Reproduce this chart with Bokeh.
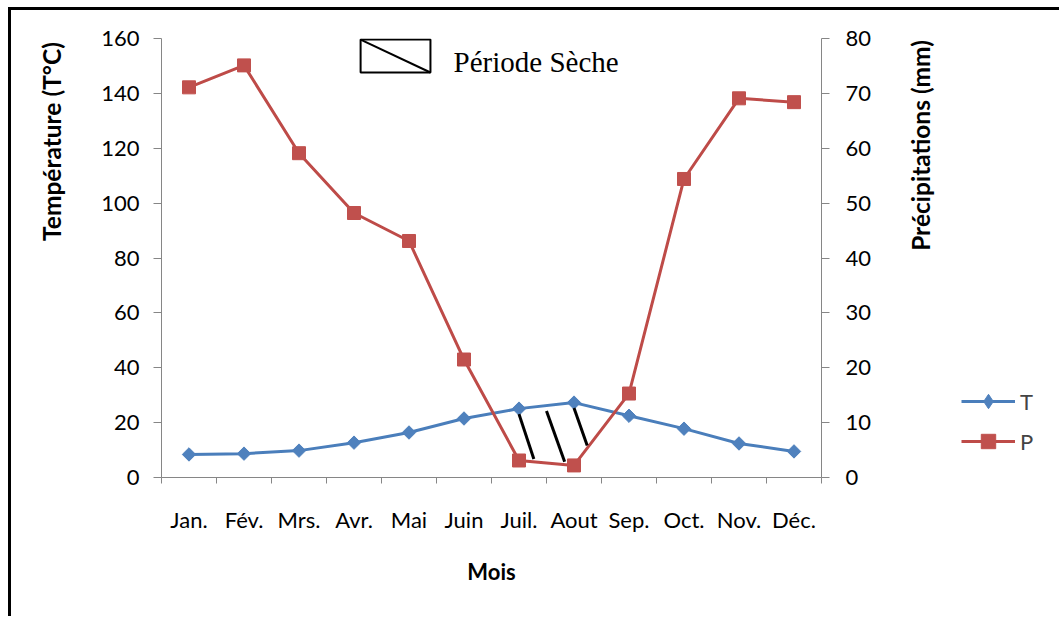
import math
import numpy as np
from bokeh.plotting import figure
from bokeh.layouts import row
from bokeh.models import (Range1d, LinearAxis, FixedTicker, Legend, LegendItem,
                          BoxAnnotation, Arrow, Label, ColumnDataSource)
from bokeh.embed import file_html
from bokeh.resources import INLINE

months = ["Jan.", "Fév.", "Mrs.", "Avr.", "Mai", "Juin", "Juil.", "Aout",
          "Sep.", "Oct.", "Nov.", "Déc."]
temperature = [8.4, 8.7, 9.8, 12.7, 16.4, 21.5, 25.1, 27.3, 22.5, 17.8, 12.4, 9.5]
precipitation = [71.1, 75.1, 59.1, 48.2, 43.1, 21.5, 3.1, 2.2, 15.3, 54.4, 69.1, 68.4]
temp_ticks = [0, 20, 40, 60, 80, 100, 120, 140, 160]
precip_ticks = [0, 10, 20, 30, 40, 50, 60, 70, 80]

FONT = "Lato"
AXIS_GRAY = "#868686"
BLUE_LINE, BLUE_FILL = "#4A7EBB", "#4F81BD"
RED_LINE, RED_FILL = "#BE4B48", "#C0504D"
H = 606

xs = list(range(len(months)))
src = ColumnDataSource(dict(x=xs, t=temperature, p=precipitation))


def side_fig(width):
    f = figure(width=width, height=H, x_range=Range1d(100, 101), y_range=Range1d(0, 1),
               output_backend="svg", toolbar_location=None,
               x_axis_location=None, y_axis_location=None,
               min_border_left=0, min_border_right=0, min_border_top=0, min_border_bottom=0)
    f.grid.visible = False
    f.outline_line_color = None
    return f


# ---------- left strip: temperature axis title ----------
f0 = side_fig(70)
f0.add_layout(Label(x=40, y=336, x_units="screen", y_units="screen",
                    text="Température (T°C)", angle=math.pi / 2,
                    text_align="center", text_baseline="middle", text_font=FONT,
                    text_font_style="bold", text_font_size="24.5px", text_color="black"))

# ---------- main chart ----------
p = figure(width=815, height=H, x_range=Range1d(-0.5, 11.5), y_range=Range1d(0, 160),
           output_backend="svg", toolbar_location=None,
           min_border_left=80, min_border_right=75, min_border_top=28, min_border_bottom=139)
p.extra_y_ranges = {"precip": Range1d(0, 80)}
p.grid.visible = False
p.outline_line_color = None

xa = p.xaxis[0]
xa.ticker = FixedTicker(ticks=xs, minor_ticks=[i - 0.5 for i in range(len(months) + 1)])
xa.major_label_overrides = {i: m for i, m in enumerate(months)}
xa.major_tick_in = 0
xa.major_tick_out = 0
xa.minor_tick_in = 0
xa.minor_tick_out = 6
xa.minor_tick_line_color = AXIS_GRAY
xa.axis_line_color = AXIS_GRAY
xa.major_label_standoff = 22
xa.major_label_text_font = FONT
xa.major_label_text_font_size = "22px"
xa.major_label_text_color = "black"
xa.axis_label = "Mois"
xa.axis_label_text_font = FONT
xa.axis_label_text_font_style = "bold"
xa.axis_label_text_font_size = "22px"
xa.axis_label_text_color = "black"
xa.axis_label_standoff = 22

ya = p.yaxis[0]
ya.ticker = FixedTicker(ticks=temp_ticks)
ya.major_tick_in = 0
ya.major_tick_out = 8
ya.minor_tick_line_color = None
ya.major_tick_line_color = AXIS_GRAY
ya.axis_line_color = AXIS_GRAY
ya.major_label_standoff = 14
ya.major_label_text_font = FONT
ya.major_label_text_font_size = "22px"
ya.major_label_text_color = "black"

ra = LinearAxis(y_range_name="precip", ticker=FixedTicker(ticks=precip_ticks))
ra.major_tick_in = 0
ra.major_tick_out = 8
ra.minor_tick_line_color = None
ra.major_tick_line_color = AXIS_GRAY
ra.axis_line_color = AXIS_GRAY
ra.major_label_standoff = 16
ra.major_label_text_font = FONT
ra.major_label_text_font_size = "22px"
ra.major_label_text_color = "black"
p.add_layout(ra, "right")

t_line = p.line("x", "t", source=src, line_color=BLUE_LINE, line_width=3)
t_pts = p.scatter("x", "t", source=src, marker="square", angle=math.pi / 4, size=9.5,
                  fill_color=BLUE_FILL, line_color=BLUE_FILL)
p_line = p.line("x", "p", source=src, y_range_name="precip", line_color=RED_LINE, line_width=3)
p_pts = p.scatter("x", "p", source=src, y_range_name="precip", marker="square", size=13,
                  fill_color=RED_FILL, line_color=RED_FILL)

# dry-period hatching between the curves (precipitation on the temperature scale = 2 x P)
x_top = [6.0, 6.5, 7.0]
x_bot = [6.27, 6.83, 7.24]
y_top = list(np.interp(x_top, xs, temperature) - 2)
y_bot = list(np.interp(x_bot, xs, [2 * v for v in precipitation]) + 1)
p.segment(x0=x_top, y0=y_top, x1=x_bot, y1=y_bot, line_color="black", line_width=3)

# "Période Sèche" key
p.add_layout(BoxAnnotation(left=3.12, right=4.39, top=159.6, bottom=147.6,
                           fill_alpha=0, line_color="black", line_alpha=1, line_width=2))
p.add_layout(Arrow(end=None, x_start=3.12, y_start=159.6, x_end=4.39, y_end=147.6,
                   line_color="black", line_width=2))
p.add_layout(Label(x=4.81, y=151.6, text="Période Sèche", text_baseline="alphabetic",
                   text_font="Liberation Serif", text_font_size="29px",
                   text_color="black"))

# ---------- right strip: precipitation axis title + legend ----------
f2 = side_fig(163)
f2.add_layout(Label(x=24, y=332, x_units="screen", y_units="screen",
                    text="Précipitations (mm)", angle=math.pi / 2,
                    text_align="center", text_baseline="middle", text_font=FONT,
                    text_font_style="bold", text_font_size="24.5px", text_color="black"))
lt_line = f2.line("x", "t", source=src, line_color=BLUE_LINE, line_width=3)
lt_pts = f2.scatter("x", "t", source=src, marker="diamond", size=14,
                    fill_color=BLUE_FILL, line_color=BLUE_FILL)
lp_line = f2.line("x", "p", source=src, line_color=RED_LINE, line_width=3)
lp_pts = f2.scatter("x", "p", source=src, marker="square", size=13,
                    fill_color=RED_FILL, line_color=RED_FILL)
legend = Legend(items=[LegendItem(label="T", renderers=[lt_line, lt_pts]),
                       LegendItem(label="P", renderers=[lp_line, lp_pts])],
                location=(65, 18), glyph_width=54, glyph_height=36, label_height=36,
                spacing=4, padding=0, margin=0, border_line_color=None,
                background_fill_alpha=0, label_text_font=FONT, label_text_font_size="22px",
                label_standoff=5)
f2.add_layout(legend)

layout = row(f0, p, f2, spacing=0)
layout.styles = {"margin-left": "8px", "margin-top": "7px",
                 "border-left": "3px solid black", "border-top": "3px solid black"}

open("out.html", "w").write(file_html(layout, INLINE))
